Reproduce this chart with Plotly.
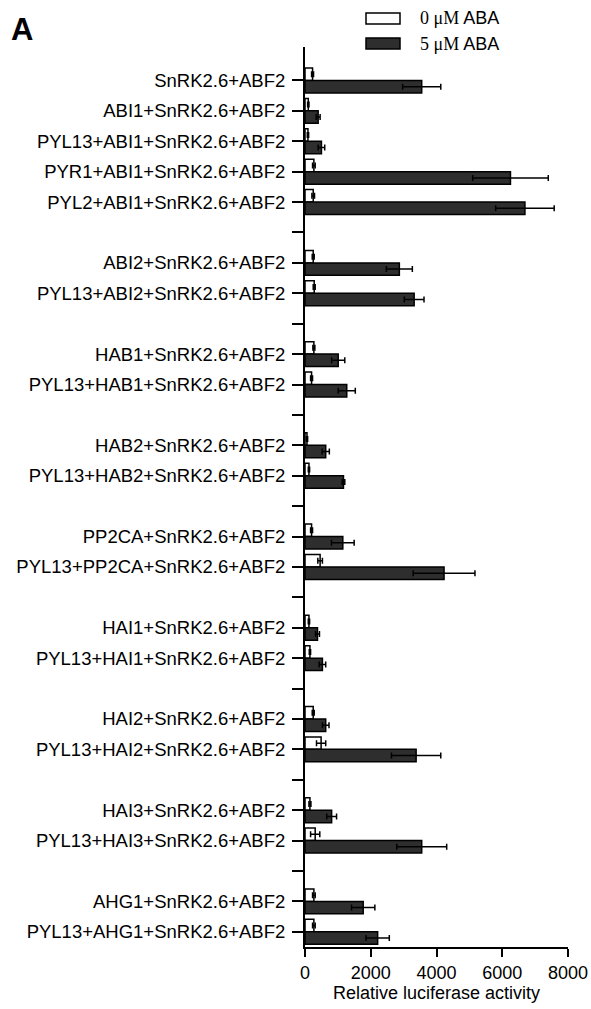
import plotly.graph_objects as go

categories = [
    "SnRK2.6+ABF2", "ABI1+SnRK2.6+ABF2", "PYL13+ABI1+SnRK2.6+ABF2",
    "PYR1+ABI1+SnRK2.6+ABF2", "PYL2+ABI1+SnRK2.6+ABF2", " ",
    "ABI2+SnRK2.6+ABF2", "PYL13+ABI2+SnRK2.6+ABF2", "  ",
    "HAB1+SnRK2.6+ABF2", "PYL13+HAB1+SnRK2.6+ABF2", "   ",
    "HAB2+SnRK2.6+ABF2", "PYL13+HAB2+SnRK2.6+ABF2", "    ",
    "PP2CA+SnRK2.6+ABF2", "PYL13+PP2CA+SnRK2.6+ABF2", "     ",
    "HAI1+SnRK2.6+ABF2", "PYL13+HAI1+SnRK2.6+ABF2", "      ",
    "HAI2+SnRK2.6+ABF2", "PYL13+HAI2+SnRK2.6+ABF2", "       ",
    "HAI3+SnRK2.6+ABF2", "PYL13+HAI3+SnRK2.6+ABF2", "        ",
    "AHG1+SnRK2.6+ABF2", "PYL13+AHG1+SnRK2.6+ABF2",
]

aba0 = [230, 100, 90, 270, 250, None, 250, 280, None, 270, 200, None,
        60, 120, None, 200, 460, None, 120, 150, None, 250, 490, None,
        150, 310, None, 270, 270]
aba0_err = [30, 20, 20, 40, 40, None, 30, 30, None, 30, 30, None,
            20, 20, None, 30, 70, None, 20, 20, None, 30, 140, None,
            30, 140, None, 40, 40]
aba5 = [3550, 400, 500, 6250, 6690, None, 2870, 3320, None, 1010, 1270, None,
        630, 1170, None, 1150, 4230, None, 380, 530, None, 630, 3380, None,
        810, 3550, None, 1770, 2210]
aba5_err = [580, 60, 100, 1150, 890, None, 395, 300, None, 200, 260, None,
            110, 40, None, 345, 940, None, 60, 100, None, 100, 750, None,
            150, 760, None, 355, 355]

x_ticks = [0, 2000, 4000, 6000, 8000]
series_conc = ["0 \u03bcM", "5 \u03bcM"]
series_names = [c + " ABA" for c in series_conc]
series_colors = ["#ffffff", "#2e2e2e"]

FONT = "Liberation Sans, Arial, sans-serif"
SERIF = "Liberation Serif, Times New Roman, serif"

fig = go.Figure()
for name, vals, errs, col in [(series_names[0], aba0, aba0_err, series_colors[0]),
                              (series_names[1], aba5, aba5_err, series_colors[1])]:
    fig.add_trace(go.Bar(
        y=categories, x=vals, orientation="h", name=name,
        marker=dict(color=col, line=dict(color="black", width=1.5)),
        error_x=dict(type="data", array=errs, symmetric=True, color="black",
                     thickness=1.5, width=3),
        showlegend=False,
    ))

W, H = 591, 1009
L, R, T, B = 305, 23, 47, 62
pw, ph = W - L - R, H - T - B

def px(xp):
    return (xp - L) / pw

def py(yp):
    return (H - B - yp) / ph

# custom legend keys (wide rectangles as in the original)
for i, (conc, col) in enumerate(zip(series_conc, series_colors)):
    y0 = 13 + i * 25
    fig.add_shape(type="rect", xref="paper", yref="paper",
                  x0=px(366), x1=px(400), y0=py(y0 + 11), y1=py(y0),
                  fillcolor=col, line=dict(color="black", width=1.5))
    fig.add_annotation(xref="paper", yref="paper", x=px(418), y=py(y0 + 5.5),
                       xanchor="left", yanchor="middle", showarrow=False,
                       text=(f"<span style=\"font-family:{SERIF}\">{conc}</span>"
                             f"<span style=\"font-family:{FONT}\"> ABA</span>"),
                       font=dict(family=FONT, size=18, color="black"))

fig.add_annotation(xref="paper", yref="paper", x=px(9), y=py(30),
                   xanchor="left", yanchor="middle", showarrow=False,
                   text="<b>A</b>", font=dict(family=FONT, size=31, color="black"))

fig.update_layout(
    template="none",
    width=W, height=H,
    margin=dict(l=L, r=R, t=T, b=B, pad=0, autoexpand=False),
    paper_bgcolor="white", plot_bgcolor="white",
    barmode="group", bargap=0.18, bargroupgap=0,
    font=dict(family=FONT, size=18, color="black"),
)
fig.update_xaxes(
    automargin=False,
    range=[0, 8000], tickvals=x_ticks, ticktext=[str(v) for v in x_ticks],
    showgrid=False, zeroline=False, showline=True, linecolor="black", linewidth=2,
    ticks="outside", ticklen=8, tickwidth=2, tickcolor="black",
    tickfont=dict(family=FONT, size=18),
    title=dict(text="Relative luciferase activity", font=dict(family=FONT, size=18), standoff=4),
)
fig.update_yaxes(
    automargin=False,
    type="category", categoryorder="array", categoryarray=categories,
    range=[len(categories) - 0.5, -1.1],
    showgrid=False, zeroline=False, showline=True, linecolor="black", linewidth=2,
    ticks="outside", ticklen=11, tickwidth=2, tickcolor="black",
    tickfont=dict(family=FONT, size=18.5), ticklabelstandoff=3,
)

fig.write_html("out.html", config={"displayModeBar": False},
               post_script="document.body.style.margin='0';document.body.style.overflow='hidden';")
